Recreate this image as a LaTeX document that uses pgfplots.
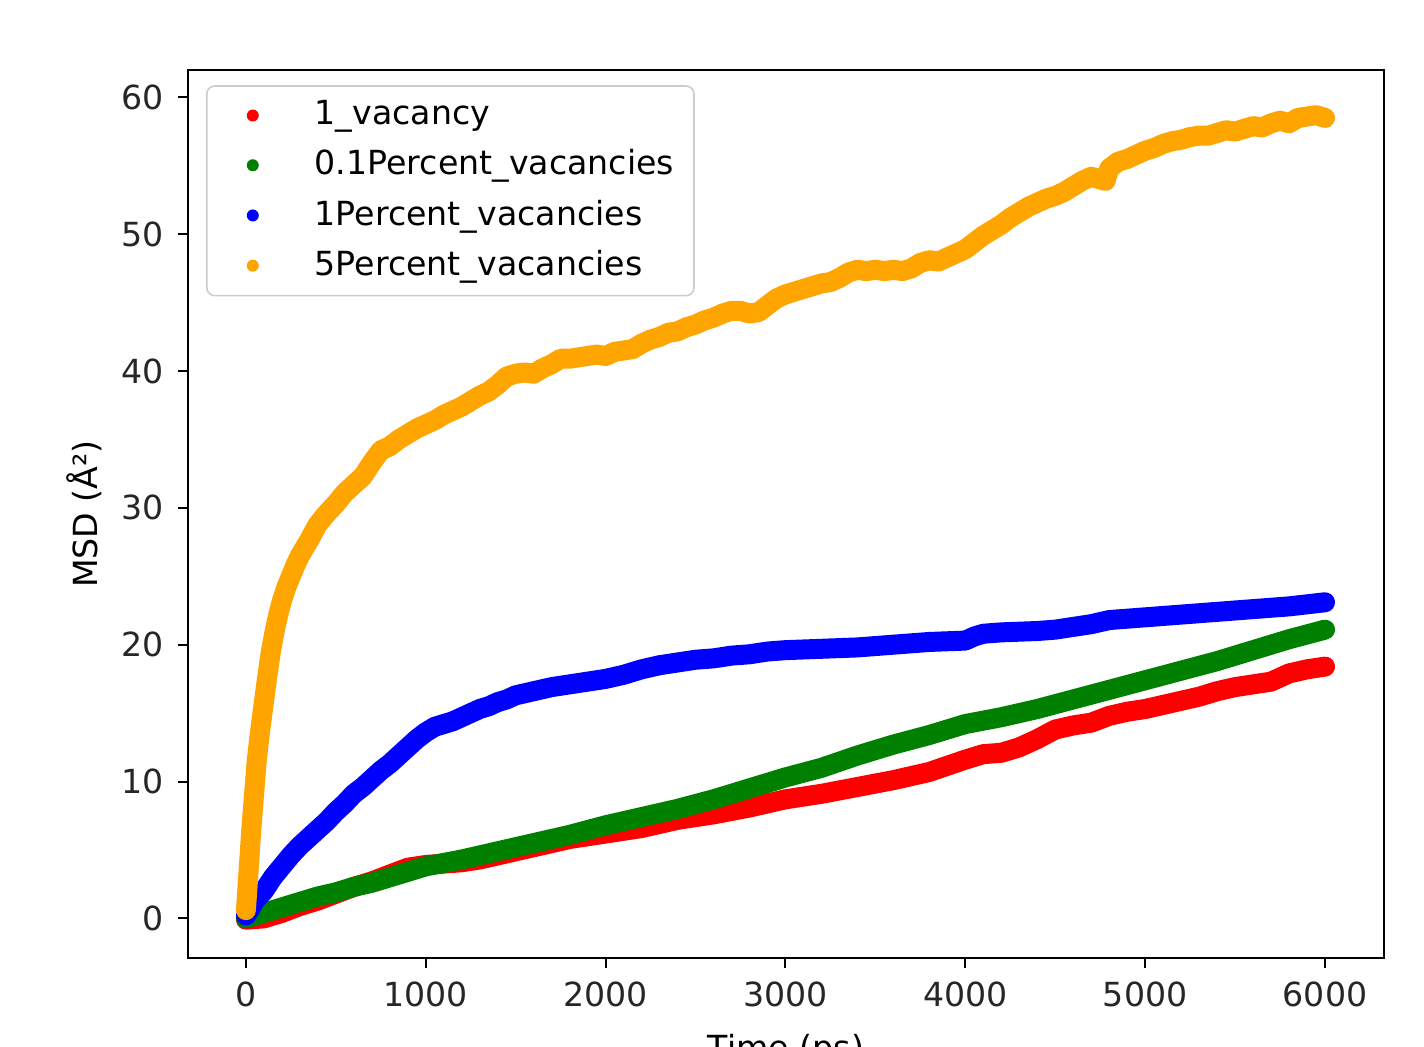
\documentclass[border=0pt]{standalone}
\usepackage{pgfplots}
\pgfplotsset{compat=1.18}
\usepackage{fontspec}
\setmainfont{DejaVu Sans}
\definecolor{mplorange}{HTML}{FFA500}
\definecolor{mplgreen}{HTML}{008000}
\begin{document}
\begin{tikzpicture}
\begin{axis}[
  scale only axis,
  width=299pt, height=222pt,
  xmin=-322, xmax=6328, ymin=-2.9, ymax=62,
  xtick={0,1000,2000,3000,4000,5000,6000},
  ytick={0,10,20,30,40,50,60},
  /pgf/number format/assume math mode=true,
  /pgf/number format/set thousands separator={},
  tick label style={font=\fontsize{8.3}{10}\selectfont, text=black!85},
  label style={font=\fontsize{8.3}{10}\selectfont},
  ylabel style={xshift=0pt, yshift=-2pt},
  xtick pos=bottom, ytick pos=left,
  tick align=outside,
  major tick length=2.5pt,
  every tick/.style={black, line width=0.5pt},
  axis line style={black, line width=0.6pt},
  xlabel={Time (ps)},
  ylabel={MSD (Å²)},
  legend cell align=left,
  legend style={at={(0,1)}, anchor=north west, xshift=4.5pt, yshift=-3.8pt,
    draw=black!20, rounded corners=2pt, fill=white,
    font=\fontsize{8.3}{10}\selectfont,
    row sep=0.75pt, inner xsep=3pt, inner ysep=1.6pt},
  legend image code/.code={\fill[#1, draw=none] (0pt,0pt) circle (1.5pt); \path (-6pt,0pt) (11pt,0pt);},
]
\addplot[red, line width=5pt, line cap=round, line join=round] table {
0 -0.1
100 0.0
200 0.4
300 0.9
400 1.3
500 1.8
600 2.3
700 2.7
800 3.2
900 3.7
1000 3.9
1100 4.0
1200 4.1
1300 4.3
1400 4.6
1500 4.9
1600 5.2
1700 5.5
1800 5.8
1900 6.0
2000 6.2
2200 6.6
2400 7.2
2600 7.6
2800 8.1
3000 8.7
3200 9.1
3400 9.6
3600 10.1
3800 10.7
4000 11.6
4100 12.0
4200 12.1
4300 12.5
4400 13.1
4500 13.8
4600 14.1
4700 14.3
4800 14.8
4900 15.1
5000 15.3
5100 15.6
5200 15.9
5300 16.2
5400 16.6
5500 16.9
5600 17.1
5700 17.3
5800 17.9
5900 18.2
6000 18.4
};
\addlegendentry{1\_vacancy}
\addplot[mplgreen, line width=5pt, line cap=round, line join=round] table {
0 0
100 0.4
200 0.8
300 1.2
400 1.6
500 1.9
600 2.3
700 2.6
800 3.0
900 3.4
1000 3.8
1200 4.3
1400 4.9
1600 5.5
1800 6.1
2000 6.8
2200 7.4
2400 8.0
2600 8.7
2800 9.5
3000 10.3
3200 11.0
3400 11.9
3600 12.7
3800 13.4
4000 14.2
4200 14.7
4400 15.3
4600 16.0
4800 16.7
5000 17.4
5200 18.1
5400 18.8
5600 19.6
5800 20.4
6000 21.1
};
\addlegendentry{0.1Percent\_vacancies}
\addplot[blue, line width=5pt, line cap=round, line join=round] table {
0 0.2
20 0.6
50 1.3
100 2.0
150 3.0
200 3.8
250 4.6
300 5.3
350 5.9
400 6.5
450 7.1
500 7.8
550 8.4
600 9.1
650 9.6
700 10.2
750 10.8
800 11.3
850 11.9
900 12.5
950 13.1
1000 13.6
1050 14.0
1100 14.2
1150 14.4
1200 14.7
1250 15.0
1300 15.3
1350 15.5
1400 15.8
1450 16.0
1500 16.3
1600 16.6
1700 16.9
1800 17.1
1900 17.3
2000 17.5
2100 17.8
2200 18.2
2300 18.5
2400 18.7
2500 18.9
2600 19.0
2700 19.2
2800 19.3
2900 19.5
3000 19.6
3200 19.7
3400 19.8
3600 20.0
3800 20.2
4000 20.3
4050 20.6
4100 20.8
4200 20.9
4400 21.0
4500 21.1
4600 21.3
4700 21.5
4800 21.8
4900 21.9
5000 22.0
5200 22.2
5400 22.4
5600 22.6
5800 22.8
6000 23.1
};
\addlegendentry{1Percent\_vacancies}
\addplot[mplorange, line width=5pt, line cap=round, line join=round] table {
0 0.6
10 2.5
20 4.5
30 6.5
45 9.0
60 11.5
80 13.8
100 15.8
120 17.8
140 19.6
160 21.0
180 22.2
200 23.2
225 24.2
250 25.0
275 25.8
300 26.5
350 27.6
400 28.8
450 29.6
500 30.3
550 31.1
600 31.7
650 32.3
700 33.3
750 34.2
800 34.5
850 35.0
900 35.4
950 35.8
1000 36.1
1050 36.4
1100 36.8
1150 37.1
1200 37.4
1250 37.8
1300 38.2
1350 38.5
1400 39.0
1450 39.6
1500 39.8
1550 39.9
1600 39.8
1650 40.2
1700 40.5
1750 40.9
1800 40.9
1850 41.0
1900 41.1
1950 41.2
2000 41.1
2050 41.4
2100 41.5
2150 41.6
2200 42.0
2250 42.3
2300 42.5
2350 42.8
2400 42.9
2450 43.2
2500 43.4
2550 43.7
2600 43.9
2650 44.2
2700 44.4
2750 44.4
2800 44.2
2850 44.3
2900 44.8
2950 45.3
3000 45.6
3050 45.8
3100 46.0
3150 46.2
3200 46.4
3250 46.5
3300 46.8
3350 47.2
3400 47.4
3450 47.3
3500 47.4
3550 47.3
3600 47.4
3650 47.3
3700 47.5
3750 47.9
3800 48.1
3850 48.0
3900 48.3
3950 48.6
4000 48.9
4050 49.4
4100 49.9
4150 50.3
4200 50.7
4250 51.2
4300 51.6
4350 52.0
4400 52.3
4450 52.6
4500 52.8
4550 53.1
4600 53.5
4650 53.9
4700 54.2
4750 54.0
4780 53.9
4800 54.8
4850 55.3
4900 55.5
4950 55.8
5000 56.1
5050 56.3
5100 56.6
5150 56.8
5200 56.9
5250 57.1
5300 57.2
5350 57.2
5400 57.4
5450 57.6
5500 57.5
5550 57.7
5600 57.9
5650 57.8
5700 58.1
5750 58.3
5800 58.1
5850 58.5
5900 58.6
5950 58.7
6000 58.5
};
\addlegendentry{5Percent\_vacancies}
\end{axis}
\pgfresetboundingbox
\path[use as bounding box] ([xshift=-47pt,yshift=-22pt]current axis.south west) rectangle ([xshift=10pt,yshift=17.5pt]current axis.north east);
\end{tikzpicture}
\end{document}
